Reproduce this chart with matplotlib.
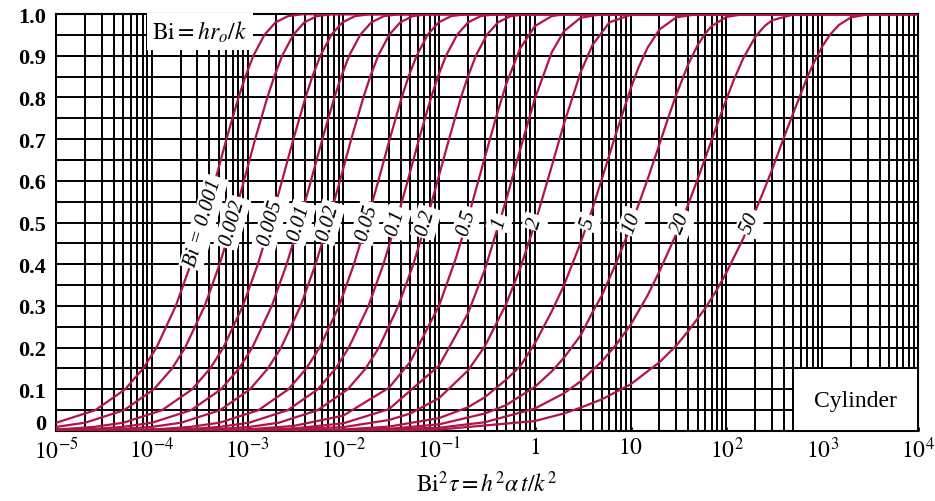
import numpy as np
import matplotlib
matplotlib.use("Agg")
import matplotlib.pyplot as plt
from matplotlib.ticker import LogLocator, MultipleLocator, NullFormatter, FixedLocator
from matplotlib.patches import Rectangle
import matplotlib.transforms as mtransforms

plt.rcParams['font.family'] = ['Liberation Serif', 'DejaVu Serif']
plt.rcParams['mathtext.fontset'] = 'stix'

# Biot numbers and the label written on each curve
bi_values = [0.001, 0.002, 0.005, 0.01, 0.02, 0.05, 0.1, 0.2, 0.5, 1, 2, 5, 10, 20, 50]
bi_labels = ["Bi = 0.001", "0.002", "0.005", "0.01", "0.02", "0.05", "0.1", "0.2",
             "0.5", "1", "2", "5", "10", "20", "50"]

# small Bi curves: Bi^2 tau read at fixed Q/Q0 levels
q_levels = [0.0, 0.002, 0.005, 0.01, 0.02, 0.05, 0.1, 0.15, 0.2, 0.3, 0.4, 0.5, 0.6, 0.7, 0.8,
            0.85, 0.9, 0.95, 0.98, 0.995, 0.9995, 1.0]
x_bi_0001 = [1e-7, 1.00e-6, 2.51e-6, 5.03e-6, 1.01e-5, 2.57e-5, 5.27e-5, 8.13e-5, 1.12e-4, 1.78e-4,
             2.55e-4, 3.47e-4, 4.58e-4, 6.02e-4, 8.05e-4, 9.49e-4, 1.15e-3, 1.50e-3, 1.96e-3,
             2.65e-3, 3.80e-3, 1e4]
x_bi_0002 = [1e-7, 2.00e-6, 5.01e-6, 1.01e-5, 2.02e-5, 5.13e-5, 1.05e-4, 1.63e-4, 2.23e-4, 3.57e-4,
             5.11e-4, 6.94e-4, 9.17e-4, 1.20e-3, 1.61e-3, 1.90e-3, 2.30e-3, 3.00e-3, 3.91e-3,
             5.30e-3, 7.60e-3, 1e4]
x_bi_0005 = [1e-7, 5.01e-6, 1.25e-5, 2.52e-5, 5.06e-5, 1.28e-4, 2.64e-4, 4.07e-4, 5.59e-4, 8.93e-4,
             1.28e-3, 1.74e-3, 2.29e-3, 3.01e-3, 4.03e-3, 4.75e-3, 5.76e-3, 7.50e-3, 9.79e-3,
             1.33e-2, 1.90e-2, 1e4]
x_bi_001 = [1e-7, 1.00e-5, 2.51e-5, 5.04e-5, 1.01e-4, 2.57e-4, 5.28e-4, 8.15e-4, 1.12e-3, 1.79e-3,
            2.56e-3, 3.47e-3, 4.59e-3, 6.04e-3, 8.07e-3, 9.51e-3, 1.15e-2, 1.50e-2, 1.96e-2,
            2.66e-2, 3.81e-2, 1e4]
x_bi_002 = [1e-7, 2.01e-5, 5.04e-5, 1.01e-4, 2.03e-4, 5.16e-4, 1.06e-3, 1.63e-3, 2.24e-3, 3.58e-3,
            5.13e-3, 6.97e-3, 9.21e-3, 1.21e-2, 1.62e-2, 1.91e-2, 2.31e-2, 3.01e-2, 3.93e-2,
            5.32e-2, 7.64e-2, 1e4]
x_bi_005 = [1e-7, 5.07e-5, 1.27e-4, 2.54e-4, 5.11e-4, 1.30e-3, 2.67e-3, 4.11e-3, 5.65e-3, 9.03e-3,
            1.29e-2, 1.75e-2, 2.32e-2, 3.05e-2, 4.07e-2, 4.80e-2, 5.83e-2, 7.58e-2, 9.90e-2,
            1.34e-1, 1.92e-1, 1e4]
x_bi_01 = [1e-7, 1.03e-4, 2.57e-4, 5.15e-4, 1.04e-3, 2.63e-3, 5.40e-3, 8.33e-3, 1.14e-2, 1.83e-2,
           2.62e-2, 3.55e-2, 4.70e-2, 6.17e-2, 8.25e-2, 9.73e-2, 1.18e-1, 1.54e-1, 2.01e-1,
           2.72e-1, 3.90e-1, 1e4]
x_bi_02 = [1e-7, 2.11e-4, 5.28e-4, 1.06e-3, 2.13e-3, 5.40e-3, 1.11e-2, 1.71e-2, 2.35e-2, 3.75e-2,
           5.38e-2, 7.30e-2, 9.64e-2, 1.27e-1, 1.69e-1, 2.00e-1, 2.42e-1, 3.15e-1, 4.12e-1,
           5.58e-1, 8.00e-1, 1e4]

# larger Bi curves: own (x, Q/Q0) points
x_bi_05 = [1e-7, 1e-4, 1e-3, 3e-3, 0.01, 0.03, 0.05, 0.1, 0.15, 0.2, 0.3, 0.4, 0.5, 0.7, 1.0, 1.5,
           2.0, 1e4]
q_bi_05 = [0.0, 0.0004, 0.004, 0.012, 0.037, 0.104, 0.166, 0.301, 0.415, 0.510, 0.656, 0.758, 0.831,
           0.917, 0.971, 0.995, 0.9992, 1.0]
x_bi_1 = [1e-7, 1e-4, 1e-3, 3e-3, 0.01, 0.03, 0.1, 0.2, 0.3, 0.5, 0.7, 1.0, 1.5, 2.0, 3.0, 5.0, 1e4]
q_bi_1 = [0.0, 0.0002, 0.002, 0.006, 0.0185, 0.0526, 0.157, 0.282, 0.387, 0.553, 0.674, 0.797, 0.908,
          0.958, 0.991, 0.9996, 1.0]
x_bi_2 = [1e-7, 1e-3, 0.01, 0.03, 0.05, 0.1, 0.2, 0.3, 0.5, 0.7, 1.0, 1.5, 2.0, 3.0, 4.0, 6.0, 10.0,
          1e4]
q_bi_2 = [0.0, 0.001, 0.0093, 0.0265, 0.042, 0.079, 0.145, 0.203, 0.304, 0.389, 0.497, 0.635, 0.735,
          0.860, 0.926, 0.980, 0.998, 1.0]
x_bi_5 = [1e-7, 1e-3, 0.01, 0.03, 0.1, 0.2, 0.3, 0.5, 0.7, 1.0, 1.5, 2.0, 3.0, 4.0, 5.0, 7.0, 10.0,
          12.0, 15.0, 20.0, 30.0, 50.0, 1e4]
q_bi_5 = [0.0, 0.0004, 0.0037, 0.0106, 0.031, 0.057, 0.081, 0.123, 0.155, 0.21, 0.287, 0.348, 0.451,
          0.534, 0.604, 0.712, 0.821, 0.870, 0.919, 0.963, 0.992, 0.9997, 1.0]
x_bi_10 = [1e-7, 0.01, 0.03, 0.1, 0.3, 0.5, 1.0, 1.5, 2.0, 3.0, 4.0, 5.0, 7.0, 10.0, 15.0, 20.0,
           25.0, 30.0, 40.0, 50.0, 60.0, 70.0, 100.0, 150.0, 1e4]
q_bi_10 = [0.0, 0.0019, 0.0053, 0.016, 0.042, 0.062, 0.106, 0.143, 0.175, 0.229, 0.285, 0.325, 0.401,
           0.490, 0.603, 0.688, 0.755, 0.807, 0.880, 0.925, 0.953, 0.971, 0.993, 0.9994, 1.0]
x_bi_20 = [1e-7, 0.01, 0.1, 0.3, 1.0, 2.0, 3.0, 5.0, 7.0, 10.0, 15.0, 20.0, 30.0, 40.0, 50.0, 60.0,
           80.0, 100.0, 120.0, 150.0, 200.0, 250.0, 300.0, 500.0, 1e4]
q_bi_20 = [0.0, 0.0009, 0.008, 0.021, 0.054, 0.090, 0.119, 0.167, 0.206, 0.255, 0.325, 0.383, 0.473,
           0.544, 0.604, 0.654, 0.735, 0.796, 0.843, 0.894, 0.945, 0.971, 0.985, 0.9989, 1.0]
x_bi_50 = [1e-7, 0.01, 0.1, 1.0, 2.0, 3.0, 5.0, 10.0, 20.0, 30.0, 40.0, 60.0, 80.0, 100.0, 150.0,
           200.0, 250.0, 300.0, 400.0, 500.0, 700.0, 850.0, 1000.0, 1200.0, 1500.0, 2000.0, 3000.0, 1e4]
q_bi_50 = [0.0, 0.0004, 0.0035, 0.024, 0.042, 0.056, 0.076, 0.112, 0.165, 0.205, 0.240, 0.294, 0.340,
           0.380, 0.462, 0.527, 0.581, 0.627, 0.705, 0.763, 0.849, 0.891, 0.922, 0.950, 0.974, 0.992,
           0.9991, 1.0]

curves = [
    (x_bi_0001, q_levels), (x_bi_0002, q_levels), (x_bi_0005, q_levels), (x_bi_001, q_levels),
    (x_bi_002, q_levels), (x_bi_005, q_levels), (x_bi_01, q_levels), (x_bi_02, q_levels),
    (x_bi_05, q_bi_05), (x_bi_1, q_bi_1), (x_bi_2, q_bi_2), (x_bi_5, q_bi_5),
    (x_bi_10, q_bi_10), (x_bi_20, q_bi_20), (x_bi_50, q_bi_50),
]

x_ticks = [1e-5, 1e-4, 1e-3, 1e-2, 1e-1, 1, 10, 1e2, 1e3, 1e4]
x_ticklabels = [r'$10^{-5}$', r'$10^{-4}$', r'$10^{-3}$', r'$10^{-2}$', r'$10^{-1}$', r'$1$',
                r'$10$', r'$10^{2}$', r'$10^{3}$', r'$10^{4}$']
y_ticks = [0.0, 0.1, 0.2, 0.3, 0.4, 0.5, 0.6, 0.7, 0.8, 0.9, 1.0]
y_ticklabels = ['0', '0.1', '0.2', '0.3', '0.4', '0.5', '0.6', '0.7', '0.8', '0.9', '1.0']

curve_color = '#b3134c'

fig = plt.figure(figsize=(9.35, 5.02), dpi=100)
ax = fig.add_axes([0.0599, 0.1394, 0.9219, 0.8307])
ax.set_xscale('log')
ax.set_xlim(1e-5, 1e4)
ax.set_ylim(0, 1)

ax.xaxis.set_major_locator(FixedLocator(x_ticks))
ax.set_xticklabels(x_ticklabels, fontsize=17)
ax.xaxis.set_minor_locator(LogLocator(base=10, subs=np.arange(2, 10), numticks=200))
ax.xaxis.set_minor_formatter(NullFormatter())
ax.yaxis.set_major_locator(FixedLocator(y_ticks))
ax.set_yticklabels(y_ticklabels, fontsize=16, fontweight='bold')
ax.yaxis.set_minor_locator(MultipleLocator(0.05))

ax.tick_params(axis='x', which='major', length=3, width=2, pad=4, direction='in')
ax.tick_params(axis='y', which='major', length=0, pad=7)
ax.tick_params(which='minor', length=0)
ax.grid(True, which='both', color='black', linewidth=1.4)
for s in ax.spines.values():
    s.set_linewidth(1.5)

# shift the "0" label up a bit, as in the original
lab0 = ax.get_yticklabels()[0]
lab0.set_transform(lab0.get_transform() + mtransforms.ScaledTranslation(0, 7 / 72, fig.dpi_scale_trans))

ax.set_xlabel(r'$\mathrm{Bi}^2\tau = h^2\alpha\, t/k^2$', fontsize=17, labelpad=6)

for (xs, qs), lab in zip(curves, bi_labels):
    ax.plot(xs, qs, color=curve_color, linewidth=1.6, zorder=3)
    lx = np.log10(xs)
    xm = 10 ** np.interp(0.5, qs, lx)
    x1 = 10 ** np.interp(0.42, qs, lx)
    x2 = 10 ** np.interp(0.58, qs, lx)
    p1 = ax.transData.transform((x1, 0.42))
    p2 = ax.transData.transform((x2, 0.58))
    ang = np.degrees(np.arctan2(p2[1] - p1[1], p2[0] - p1[0]))
    ax.text(xm, 0.5, lab, rotation=ang, rotation_mode='anchor', ha='center', va='center',
            fontsize=15, style='italic', zorder=5,
            bbox=dict(facecolor='white', edgecolor='none', pad=2))

# white panel holding the "Cylinder" caption
ax.add_patch(Rectangle((500, 0), 1e4 - 500, 0.15, facecolor='white', edgecolor='black',
                       linewidth=1.4, zorder=2.6))
ax.text(2240, 0.072, 'Cylinder', ha='center', va='center', fontsize=17, zorder=4)

ax.text(0.167, 0.958, r'$\mathrm{Bi} = hr_o/k$', transform=ax.transAxes, ha='center', va='center',
        fontsize=17, zorder=5, bbox=dict(facecolor='white', edgecolor='none', pad=4))

fig.savefig('out.png', dpi=100, facecolor='white')
